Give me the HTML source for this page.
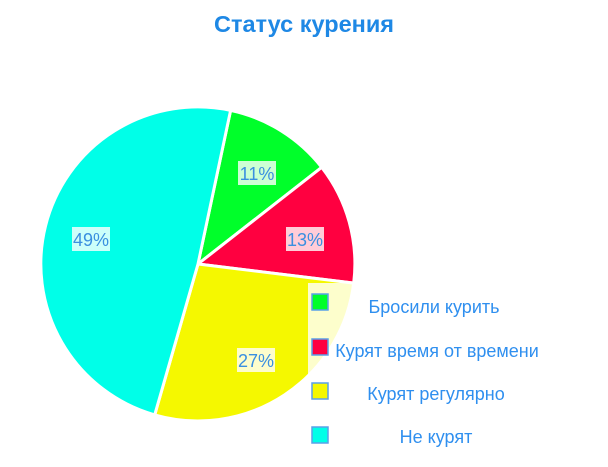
<!DOCTYPE html>
<html><head><meta charset="utf-8"><style>
body{margin:0;background:#fff;width:608px;height:462px;overflow:hidden;font-family:"Liberation Sans",sans-serif}
</style></head><body>
<svg width="608" height="462" xmlns="http://www.w3.org/2000/svg" font-family="Liberation Sans, sans-serif">
<text x="304" y="32" text-anchor="middle" font-size="23.5" font-weight="bold" fill="#1e88e5">Статус курения</text>
<g stroke="#fff" stroke-width="3">
<path d="M198,264 L230.6,110.4 A157,157 0 0 1 321.7,167.3 Z" fill="#00ff2a"/>
<path d="M198,264 L321.7,167.3 A157,157 0 0 1 353.7,283.1 Z" fill="#ff0040"/>
<path d="M198,264 L353.7,283.1 A157,157 0 0 1 154.7,414.9 Z" fill="#f5f800"/>
<path d="M198,264 L154.7,414.9 A157,157 0 0 1 230.6,110.4 Z" fill="#00ffe8"/>
</g>
<rect x="308" y="283" width="300" height="179" fill="#fff" opacity="0.8"/>
<g font-size="18" fill="#3a8fe0" text-anchor="middle">
<rect x="238" y="161" width="38" height="24" fill="#ccffd4"/><text x="257" y="180">11%</text>
<rect x="286" y="227" width="38" height="24" fill="#ffccd8"/><text x="305" y="246">13%</text>
<rect x="237" y="348" width="38" height="24" fill="#fdfdcc"/><text x="256" y="367">27%</text>
<rect x="72" y="227" width="38" height="24" fill="#ccfffa"/><text x="91" y="246">49%</text>
</g>
<g stroke="#5aa0e8" stroke-width="1.5">
<rect x="312" y="294" width="16" height="16" fill="#00ff2a"/>
<rect x="312" y="339" width="16" height="16" fill="#ff0040"/>
<rect x="312" y="383" width="16" height="16" fill="#f5f800"/>
<rect x="312" y="427" width="16" height="16" fill="#00ffe8"/>
</g>
<g font-size="18" fill="#2f8fef" text-anchor="middle">
<text x="434" y="313">Бросили курить</text>
<text x="437" y="357">Курят время от времени</text>
<text x="436" y="400">Курят регулярно</text>
<text x="436" y="443">Не курят</text>
</g>
</svg>
</body></html>
